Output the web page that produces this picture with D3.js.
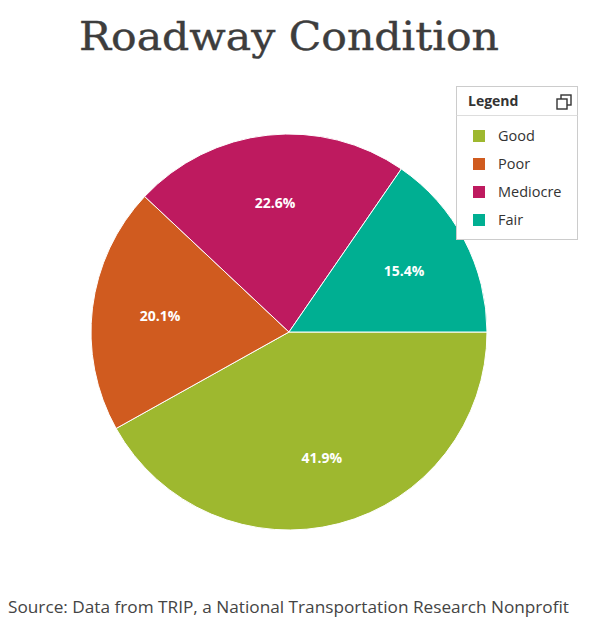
<!DOCTYPE html>
<html>
<head>
<meta charset="utf-8">
<script src="https://cdn.jsdelivr.net/npm/d3@7"></script>
<style>
  body { margin: 0; background: #fff; }
  svg text { font-family: "Open Sans", sans-serif; }
</style>
</head>
<body>
<svg id="chart" width="600" height="641"></svg>
<script>
const categories = ["Good", "Poor", "Mediocre", "Fair"];
const shares = [41.9, 20.1, 22.6, 15.4];
const colors = ["#9eb82f", "#d05b1f", "#be1a5f", "#00af92"];

const svg = d3.select("#chart");

const cx = 289, cy = 332, radius = 198;

// title
svg.append("text")
  .attr("x", 289)
  .attr("y", 50)
  .attr("text-anchor", "middle")
  .attr("fill", "#3d3d3d")
  .attr("stroke", "#3d3d3d")
  .attr("stroke-width", 0.4)
  .style("font-family", "'DejaVu Serif', serif")
  .attr("font-size", 39)
  .attr("textLength", 420)
  .attr("lengthAdjust", "spacingAndGlyphs")
  .text("Roadway Condition");

const data = categories.map((c, i) => ({ name: c, value: shares[i], color: colors[i] }));

const pie = d3.pie()
  .sort(null)
  .value(d => d.value)
  .startAngle(Math.PI / 2)
  .endAngle(Math.PI / 2 + 2 * Math.PI);

const arc = d3.arc().innerRadius(0).outerRadius(radius);
const labelArc = d3.arc().innerRadius(130).outerRadius(130);

const g = svg.append("g").attr("transform", `translate(${cx},${cy})`);

g.selectAll("path")
  .data(pie(data))
  .join("path")
  .attr("d", arc)
  .attr("fill", d => d.data.color)
  .attr("stroke", "#fff")
  .attr("stroke-width", 1);

g.selectAll("text")
  .data(pie(data))
  .join("text")
  .attr("transform", d => `translate(${labelArc.centroid(d)})`)
  .attr("text-anchor", "middle")
  .attr("dy", "0.35em")
  .attr("fill", "#fff")
  .attr("font-size", 14)
  .attr("font-weight", "bold")
  .text(d => d3.format(".1f")(d.data.value) + "%");

// legend
const lg = svg.append("g").attr("transform", "translate(456,86)");
lg.append("rect")
  .attr("x", 0.5).attr("y", 0.5)
  .attr("width", 121).attr("height", 153)
  .attr("fill", "#fff")
  .attr("stroke", "#ccc");
lg.append("line")
  .attr("x1", 0.5).attr("x2", 121.5)
  .attr("y1", 29.5).attr("y2", 29.5)
  .attr("stroke", "#ddd");
lg.append("text")
  .attr("x", 12).attr("y", 20)
  .attr("font-size", 14)
  .attr("font-weight", "bold")
  .attr("fill", "#333")
  .text("Legend");
// restore icon
const ic = lg.append("g").attr("transform", "translate(101,9)").attr("fill", "none").attr("stroke", "#333").attr("stroke-width", 1.4);
ic.append("rect").attr("x", 4).attr("y", 0).attr("width", 10).attr("height", 10);
ic.append("rect").attr("x", 0).attr("y", 4).attr("width", 10).attr("height", 10).attr("fill", "#fff");

const items = lg.selectAll("g.item")
  .data(data)
  .join("g")
  .attr("class", "item")
  .attr("transform", (d, i) => `translate(17,${50 + i * 28})`);
items.append("rect")
  .attr("x", 0).attr("y", -6)
  .attr("width", 12).attr("height", 12)
  .attr("fill", d => d.color);
items.append("text")
  .attr("x", 25).attr("y", 0)
  .attr("dy", "0.35em")
  .attr("font-size", 14.5)
  .attr("fill", "#333")
  .text(d => d.name);

// source
svg.append("text")
  .attr("x", 8)
  .attr("y", 613)
  .attr("font-size", 17)
  .attr("fill", "#444")
  .attr("textLength", 561)
  .attr("lengthAdjust", "spacingAndGlyphs")
  .text("Source: Data from TRIP, a National Transportation Research Nonprofit");
</script>
</body>
</html>
